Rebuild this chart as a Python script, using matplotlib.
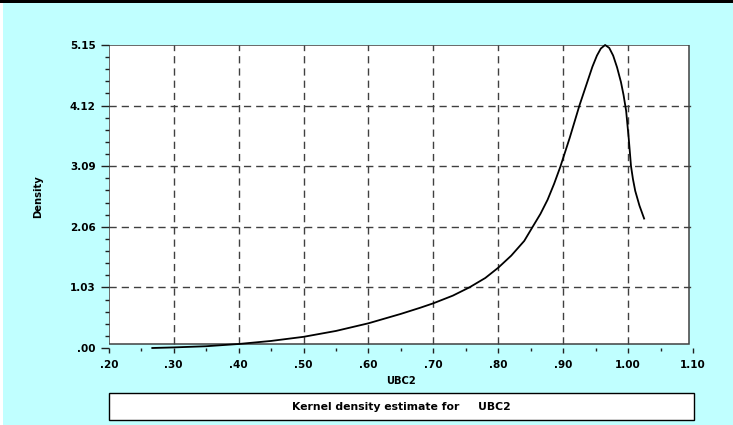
import matplotlib.pyplot as plt
import numpy as np
from matplotlib.patches import Rectangle

# kernel density estimate of UBC2
ubc2 = [0.267, 0.30, 0.35, 0.40, 0.45, 0.50, 0.55, 0.60, 0.65, 0.68, 0.70,
        0.73, 0.7555, 0.78, 0.80, 0.82, 0.84, 0.853, 0.865, 0.876, 0.886, 0.8956,
        0.91, 0.925, 0.935, 0.945, 0.952, 0.958, 0.9646, 0.971, 0.977, 0.983,
        0.989, 0.993, 0.997, 1.001, 1.0045, 1.0075, 1.011, 1.0175, 1.0247]
density = [0.00, 0.01, 0.03, 0.068, 0.12, 0.19, 0.29, 0.42, 0.58, 0.685, 0.76,
           0.89, 1.03, 1.19, 1.365, 1.57, 1.82, 2.06, 2.28, 2.52, 2.79, 3.08,
           3.57, 4.12, 4.45, 4.78, 4.97, 5.09, 5.15, 5.10, 4.97, 4.77,
           4.52, 4.30, 4.03, 3.56, 3.09, 2.87, 2.67, 2.42, 2.20]

xticks = [0.20, 0.30, 0.40, 0.50, 0.60, 0.70, 0.80, 0.90, 1.00, 1.10]
xlabels = ['.20', '.30', '.40', '.50', '.60', '.70', '.80', '.90', '1.00', '1.10']
yticks = [0.00, 1.03, 2.06, 3.09, 4.12, 5.15]
ylabels = ['.00', '1.03', '2.06', '3.09', '4.12', '5.15']

bg = '#c0ffff'
gridc = '#404040'

fig = plt.figure(figsize=(7.33, 4.25), dpi=100, facecolor=bg)
ax = fig.add_axes([108.8 / 733, 77 / 425, (693 - 108.8) / 733, 303 / 425])
ax.set_facecolor('none')
ax.set_xlim(0.2, 1.1)
ax.set_ylim(0, 5.15)
for s in ax.spines.values():
    s.set_visible(False)

# white plotting frame (sits a bit above y=0 and short of x=1.10)
frame_bottom = 0.068
frame_right = 1.094
ax.add_patch(Rectangle((0.2, frame_bottom), frame_right - 0.2, 5.15 - frame_bottom,
                       facecolor='white', edgecolor='#404040', lw=1.1, zorder=0))

# dashed grid
for x in xticks[1:-1]:
    ax.plot([x, x], [frame_bottom, 5.15], color=gridc, lw=1, dashes=(5.2, 3.6), zorder=1)
for y in yticks[1:-1]:
    ax.plot([0.2, 1.1], [y, y], color=gridc, lw=1, dashes=(5.2, 3.6), zorder=1, clip_on=False)

ax.plot(ubc2, density, color='black', lw=1.3, zorder=3, clip_on=False,
        solid_joinstyle='round')

tickfont = dict(family='DejaVu Sans', weight='bold', size=7.5)
ax.set_xticks(xticks)
ax.set_xticklabels(xlabels, **tickfont)
ax.set_yticks(yticks)
ax.set_yticklabels(ylabels, **tickfont)
ax.set_xticks(np.array(xticks[:-1]) + 0.05, minor=True)
ax.set_yticks([v for i in range(5) for v in yticks[i] + 0.206 * np.arange(1, 5)], minor=True)
ax.tick_params(axis='y', which='major', direction='out', length=5.5, width=1, pad=4, colors='#202020')
ax.tick_params(axis='y', which='minor', direction='out', length=3, width=1, colors='#202020')
ax.tick_params(axis='x', which='major', direction='out', length=3.8, width=1, pad=5, colors='#202020')
ax.tick_params(axis='x', which='minor', direction='out', length=2.2, width=1, colors='#202020')
ax.tick_params(labelcolor='black')

ax.set_xlabel('UBC2', fontsize=7.2, fontweight='bold', labelpad=4)
ax.set_ylabel('Density', fontsize=7.2, fontweight='bold', labelpad=19)

# caption box under the chart
fig.add_artist(Rectangle((110 / 733, 4 / 425), 585 / 733, 27 / 425, transform=fig.transFigure,
                         facecolor='#606060', edgecolor='none'))
fig.add_artist(Rectangle((109 / 733, 5 / 425), 585 / 733, 27 / 425, transform=fig.transFigure,
                         facecolor='white', edgecolor='black', lw=1))
fig.text(401 / 733, 17.5 / 425, 'Kernel density estimate for     UBC2', ha='center', va='center',
         fontsize=7.8, fontweight='bold')

# page edges
fig.add_artist(Rectangle((0, 422 / 425), 1, 3 / 425, transform=fig.transFigure,
                         facecolor='black', edgecolor='none'))
fig.add_artist(Rectangle((0, 0), 3 / 733, 422 / 425, transform=fig.transFigure,
                         facecolor='white', edgecolor='none'))

fig.savefig('out.png', dpi=100, facecolor=bg)
